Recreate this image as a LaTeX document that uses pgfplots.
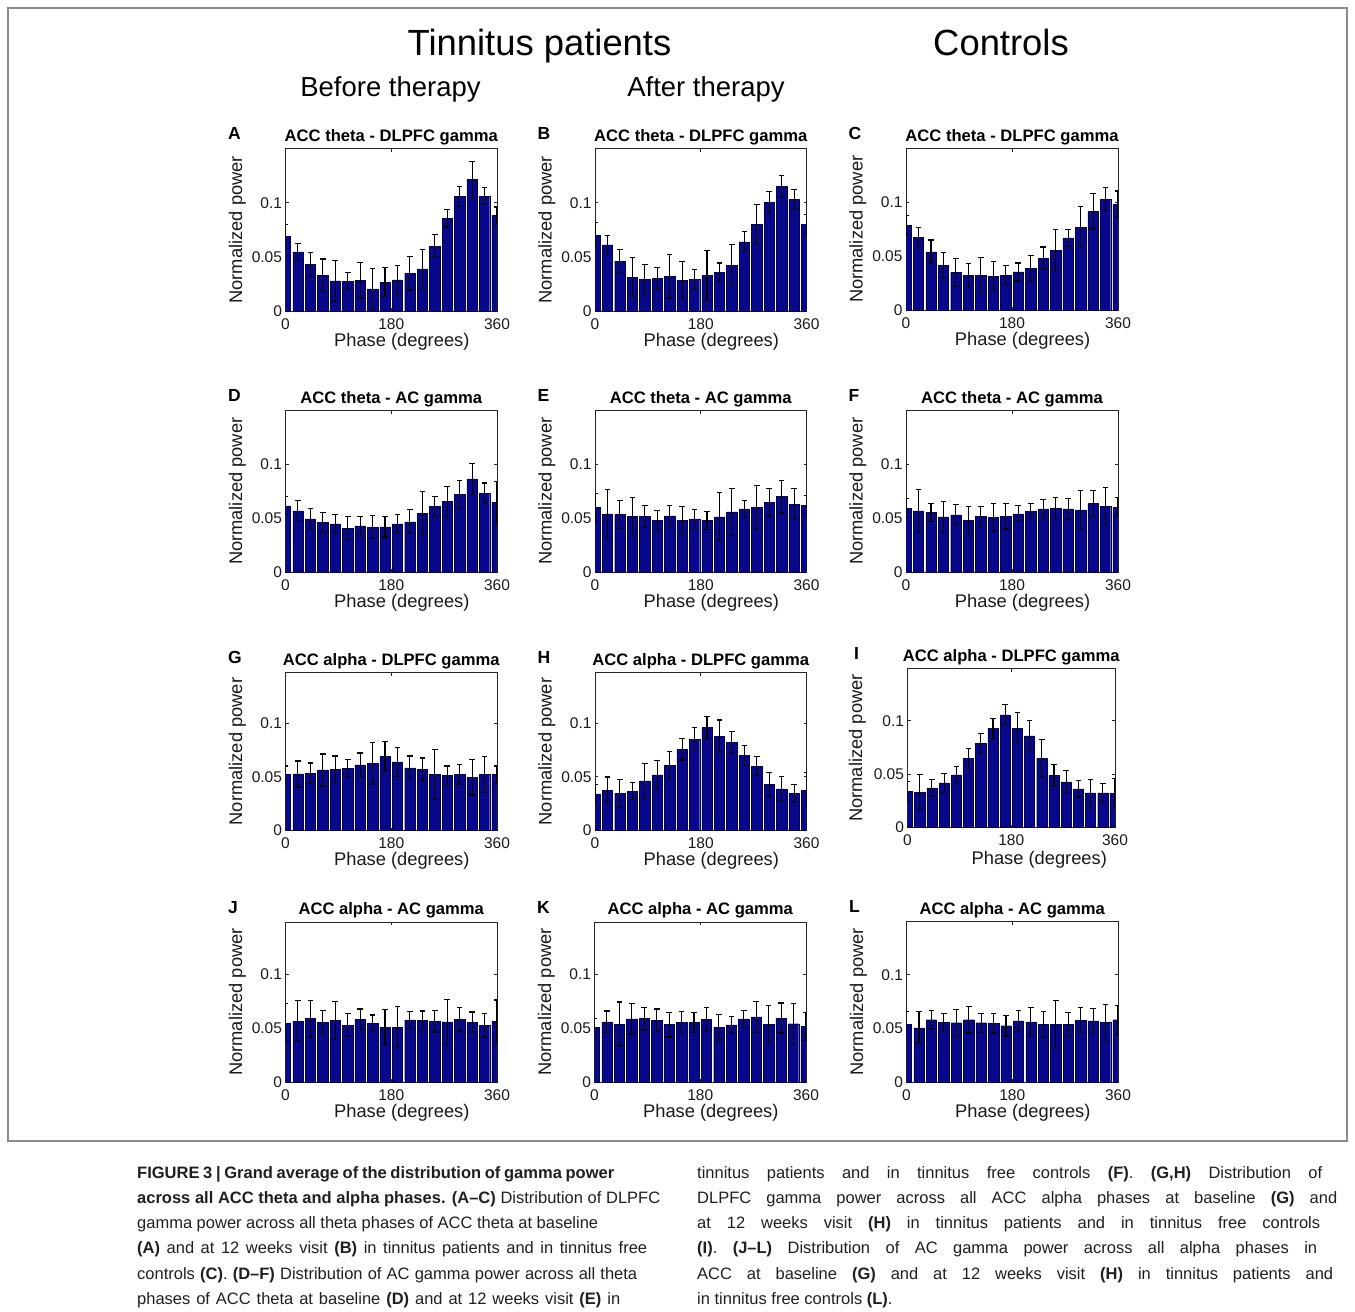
\documentclass[border=0pt]{standalone}
\usepackage{pgfplots}
\pgfplotsset{compat=1.18}
\usepackage{pgfplotstable}
\usepackage{fontspec}
\setmainfont{Liberation Sans}
\definecolor{barblue}{RGB}{8,8,140}

\pgfplotstableread{
x y e
0 0.0687 0.0109
21.176 0.0545 0.008
42.353 0.043 0.011
63.529 0.0328 0.0152
84.706 0.0279 0.0191
105.882 0.0276 0.0077
127.059 0.0285 0.0165
148.235 0.0204 0.0186
169.412 0.0266 0.0134
190.588 0.0288 0.0132
211.765 0.0347 0.0153
232.941 0.039 0.018
254.118 0.060 0.011
275.294 0.0855 0.008
296.471 0.1056 0.009
317.647 0.1214 0.0166
338.824 0.106 0.0076
360 0.088 0.008
}\tA
\pgfplotstableread{
x y e
0 0.070 0.012
21.176 0.061 0.009
42.353 0.046 0.011
63.529 0.031 0.018
84.706 0.029 0.014
105.882 0.030 0.010
127.059 0.032 0.020
148.235 0.0285 0.0175
169.412 0.0294 0.0093
190.588 0.033 0.023
211.765 0.0356 0.0087
232.941 0.0424 0.0192
254.118 0.0638 0.0092
275.294 0.080 0.018
296.471 0.100 0.010
317.647 0.1149 0.0101
338.824 0.1028 0.009
360 0.080 0.009
}\tB
\pgfplotstableread{
x y e
0 0.0786 0.0094
21.176 0.0675 0.0093
42.353 0.054 0.011
63.529 0.0418 0.0112
84.706 0.035 0.013
105.882 0.032 0.011
127.059 0.032 0.017
148.235 0.031 0.014
169.412 0.0325 0.0085
190.588 0.0353 0.0084
211.765 0.0387 0.0123
232.941 0.048 0.0105
254.118 0.0554 0.0196
275.294 0.0669 0.0081
296.471 0.077 0.019
317.647 0.0916 0.0164
338.824 0.1025 0.0111
360 0.098 0.0125
}\tC
\pgfplotstableread{
x y e
0 0.0614 0.0084
21.176 0.0568 0.0092
42.353 0.0494 0.0096
63.529 0.0463 0.0093
84.706 0.0448 0.0082
105.882 0.0407 0.0105
127.059 0.0429 0.0086
148.235 0.0417 0.0108
169.412 0.042 0.0095
190.588 0.0448 0.0082
211.765 0.0466 0.0111
232.941 0.0543 0.0207
254.118 0.0611 0.0093
275.294 0.0654 0.0142
296.471 0.0719 0.0131
317.647 0.0864 0.0142
338.824 0.0731 0.0096
360 0.0648 0.0192
}\tD
\pgfplotstableread{
x y e
0 0.0599 0.0129
21.176 0.054 0.0229
42.353 0.0534 0.0126
63.529 0.0519 0.0169
84.706 0.0515 0.0102
105.882 0.0478 0.0096
127.059 0.0522 0.0098
148.235 0.0478 0.013
169.412 0.0494 0.0086
190.588 0.0478 0.0081
211.765 0.0512 0.0223
232.941 0.0559 0.0216
254.118 0.0586 0.0078
275.294 0.0599 0.0201
296.471 0.0645 0.013
317.647 0.070 0.0152
338.824 0.063 0.0142
360 0.0617 0.0093
}\tE
\pgfplotstableread{
x y e
0 0.0593 0.0089
21.176 0.0568 0.0201
42.353 0.0552 0.0084
63.529 0.0512 0.0142
84.706 0.0531 0.0092
105.882 0.0478 0.0127
127.059 0.0515 0.009
148.235 0.0506 0.0133
169.412 0.0519 0.012
190.588 0.054 0.0074
211.765 0.0562 0.0077
232.941 0.0586 0.009
254.118 0.059 0.0101
275.294 0.0586 0.0096
296.471 0.0577 0.0179
317.647 0.0636 0.0123
338.824 0.0608 0.0179
360 0.0602 0.0089
}\tF
\pgfplotstableread{
x y e
0 0.0523 0.0077
21.176 0.0526 0.0121
42.353 0.0533 0.0095
63.529 0.0563 0.0149
84.706 0.057 0.0123
105.882 0.0576 0.0084
127.059 0.061 0.0111
148.235 0.0625 0.0192
169.412 0.069 0.0134
190.588 0.0638 0.0136
211.765 0.0582 0.0111
232.941 0.057 0.0105
254.118 0.0523 0.0232
275.294 0.0514 0.0086
296.471 0.0523 0.009
317.647 0.0495 0.0165
338.824 0.052 0.0167
360 0.052 0.008
}\tG
\pgfplotstableread{
x y e
0 0.034 0.009
21.176 0.0375 0.0123
42.353 0.0344 0.013
63.529 0.0365 0.0078
84.706 0.0461 0.0161
105.882 0.0517 0.0133
127.059 0.0604 0.013
148.235 0.0755 0.0099
169.412 0.0851 0.0109
190.588 0.096 0.0102
211.765 0.0879 0.0149
232.941 0.0817 0.0103
254.118 0.0697 0.0093
275.294 0.0598 0.0089
296.471 0.0427 0.0112
317.647 0.0387 0.0115
338.824 0.0344 0.008
360 0.0375 0.0161
}\tH
\pgfplotstableread{
x y e
0 0.0338 0.0092
21.176 0.033 0.0164
42.353 0.0372 0.0078
63.529 0.0419 0.0091
84.706 0.0494 0.0081
105.882 0.065 0.0094
127.059 0.0788 0.0096
148.235 0.0928 0.0092
169.412 0.1056 0.0094
190.588 0.093 0.0145
211.765 0.0859 0.0141
232.941 0.0647 0.0178
254.118 0.0488 0.0106
275.294 0.0428 0.0106
296.471 0.0363 0.0077
317.647 0.0325 0.0125
338.824 0.0325 0.0088
360 0.0322 0.0134
}\tI
\pgfplotstableread{
x y e
0 0.055 0.0183
21.176 0.0565 0.019
42.353 0.059 0.0171
63.529 0.0556 0.0112
84.706 0.0575 0.0177
105.882 0.0528 0.0106
127.059 0.0584 0.0096
148.235 0.0547 0.0077
169.412 0.0512 0.0165
190.588 0.0512 0.0193
211.765 0.0578 0.008
232.941 0.0571 0.009
254.118 0.0568 0.0102
275.294 0.0559 0.0208
296.471 0.0584 0.0109
317.647 0.0556 0.0096
338.824 0.0525 0.0109
360 0.0565 0.0199
}\tJ
\pgfplotstableread{
x y e
0 0.0512 0.0078
21.176 0.0559 0.0102
42.353 0.054 0.0205
63.529 0.0587 0.014
84.706 0.059 0.0106
105.882 0.0575 0.0105
127.059 0.0534 0.0115
148.235 0.0553 0.0102
169.412 0.0553 0.0096
190.588 0.0581 0.0112
211.765 0.0509 0.0118
232.941 0.0531 0.0078
254.118 0.0587 0.0078
275.294 0.0606 0.0142
296.471 0.0537 0.0177
317.647 0.0596 0.014
338.824 0.0543 0.019
360 0.0519 0.013
}\tK
\pgfplotstableread{
x y e
0 0.0537 0.0118
21.176 0.0506 0.0149
42.353 0.0581 0.0087
63.529 0.0559 0.0084
84.706 0.0553 0.0127
105.882 0.0581 0.0124
127.059 0.0553 0.0087
148.235 0.055 0.0093
169.412 0.0525 0.0096
190.588 0.0571 0.0097
211.765 0.0562 0.0131
232.941 0.0537 0.0124
254.118 0.0537 0.0224
275.294 0.0537 0.0115
296.471 0.0578 0.0115
317.647 0.0571 0.0118
338.824 0.0559 0.0168
360 0.0581 0.0133
}\tL

\newcommand\labfont{\fontsize{18.3}{20}\selectfont}
\pgfplotsset{
  panel/.style={
    scale only axis, anchor=north west,
    xmin=0, xmax=360, ymin=0, ymax=0.15,
    xtick={0,180,360}, xticklabels={0,180,360},
    ytick={0,0.05,0.1}, yticklabels={0,0.05,0.1},
    scaled y ticks=false, scaled x ticks=false,
    tick align=inside, tick pos=both, major tick length=3pt,
    axis line style={line width=0.8pt, black!85},
    every tick/.style={black!85, line width=0.6pt},
    tick label style={font=\fontsize{15.5}{17}\selectfont, text=black!90},
    xticklabel style={yshift=-4pt},
    /pgf/number format/assume math mode=true,
    xlabel={Phase (degrees)}, ylabel={Normalized power},
    title style={font=\bfseries\fontsize{16.6}{18}\selectfont, at={(0.5,1)}, anchor=base, yshift=1.5pt, text=black},
    every axis y label/.style={at={(axis description cs:-0.227,0.5)}, rotate=90, anchor=center, font=\labfont, text=black!90},
    every axis x label/.style={at={(axis description cs:0.55,-0.19)}, anchor=center, font=\labfont, text=black!90},
    clip=true,
  },
  bars/.style={
    ybar, bar width=17.6, fill=barblue, draw=barblue!50!black, line width=0.4pt,
    error bars/.cd, y dir=both, y explicit,
    error bar style={line width=1.1pt, black},
    error mark options={rotate=90, mark size=2.8pt, line width=1.1pt, black},
  },
}
\tikzset{letter/.style={anchor=base west, xshift=-57.5pt, yshift=9pt, inner sep=0pt, font=\bfseries\fontsize{17.5}{19}\selectfont}}
\newcommand\capline[4]{\node[anchor=base west, inner sep=0pt, font=\fontsize{16.5}{18}\selectfont, text=black!88] at (#1pt,-#2pt) {\makebox[#3pt][s]{#4}};}

\begin{document}
\begin{tikzpicture}
\path[use as bounding box] (0,0) rectangle (1355pt,-1312pt);
\draw[black!45, line width=1.2pt] (8pt,-8pt) rectangle (1347pt,-1141pt);

\node[anchor=base, inner sep=0pt, font=\fontsize{36.4}{40}\selectfont] at (539.5pt,-55pt) {Tinnitus patients};
\node[anchor=base, inner sep=0pt, font=\fontsize{36.4}{40}\selectfont] at (1001pt,-55pt) {Controls};
\node[anchor=base, inner sep=0pt, font=\fontsize{27.5}{30}\selectfont] at (390.5pt,-96pt) {Before therapy};
\node[anchor=base, inner sep=0pt, font=\fontsize{27.5}{30}\selectfont] at (706pt,-96pt) {After therapy};

% Row 1
\begin{axis}[panel, name=pA, at={(285.5pt,-148.5pt)}, width=211.5pt, height=162.5pt, title={ACC theta - DLPFC gamma}]
\addplot[bars] table[x=x, y=y, y error=e] {\tA};
\end{axis}
\node[letter] at (pA.north west) {A};
\begin{axis}[panel, name=pB, at={(595pt,-148.5pt)}, width=211.5pt, height=162.5pt, title={ACC theta - DLPFC gamma}]
\addplot[bars] table[x=x, y=y, y error=e] {\tB};
\end{axis}
\node[letter] at (pB.north west) {B};
\begin{axis}[panel, name=pC, at={(906pt,-148.5pt)}, width=212pt, height=161.5pt, title={ACC theta - DLPFC gamma}]
\addplot[bars] table[x=x, y=y, y error=e] {\tC};
\end{axis}
\node[letter] at (pC.north west) {C};

% Row 2
\begin{axis}[panel, name=pD, at={(285.5pt,-410.5pt)}, width=211.5pt, height=161.5pt, title={ACC theta - AC gamma}]
\addplot[bars] table[x=x, y=y, y error=e] {\tD};
\end{axis}
\node[letter] at (pD.north west) {D};
\begin{axis}[panel, name=pE, at={(595pt,-410.5pt)}, width=211.5pt, height=161.5pt, title={ACC theta - AC gamma}]
\addplot[bars] table[x=x, y=y, y error=e] {\tE};
\end{axis}
\node[letter] at (pE.north west) {E};
\begin{axis}[panel, name=pF, at={(906pt,-410.5pt)}, width=212pt, height=161.5pt, title={ACC theta - AC gamma}]
\addplot[bars] table[x=x, y=y, y error=e] {\tF};
\end{axis}
\node[letter] at (pF.north west) {F};

% Row 3
\begin{axis}[panel, name=pG, at={(285.5pt,-672.5pt)}, width=211.5pt, height=158pt, ymax=0.147, title={ACC alpha - DLPFC gamma}]
\addplot[bars] table[x=x, y=y, y error=e] {\tG};
\end{axis}
\node[letter] at (pG.north west) {G};
\begin{axis}[panel, name=pH, at={(595pt,-672.5pt)}, width=211.5pt, height=158pt, ymax=0.147, title={ACC alpha - DLPFC gamma}]
\addplot[bars] table[x=x, y=y, y error=e] {\tH};
\end{axis}
\node[letter] at (pH.north west) {H};
\begin{axis}[panel, name=pI, at={(907.5pt,-668.5pt)}, width=207.5pt, height=159pt, ymax=0.149, title={ACC alpha - DLPFC gamma},
  every axis x label/.style={at={(axis description cs:0.635,-0.2)}, anchor=center, font=\labfont, text=black!90},
  every axis y label/.style={at={(axis description cs:-0.241,0.5)}, rotate=90, anchor=center, font=\labfont, text=black!90}]
\addplot[bars] table[x=x, y=y, y error=e] {\tI};
\end{axis}
\node[letter, xshift=4pt] at (pI.north west) {I};

% Row 4
\begin{axis}[panel, name=pJ, at={(285.5pt,-922pt)}, width=211.5pt, height=160pt, ymax=0.149, title={ACC alpha - AC gamma}]
\addplot[bars] table[x=x, y=y, y error=e] {\tJ};
\end{axis}
\node[letter] at (pJ.north west) {J};
\begin{axis}[panel, name=pK, at={(594.5pt,-922pt)}, width=211.5pt, height=160pt, ymax=0.149, title={ACC alpha - AC gamma}]
\addplot[bars] table[x=x, y=y, y error=e] {\tK};
\end{axis}
\node[letter] at (pK.north west) {K};
\begin{axis}[panel, name=pL, at={(906.5pt,-921.5pt)}, width=211.5pt, height=160.5pt, ymax=0.1497, title={ACC alpha - AC gamma}]
\addplot[bars] table[x=x, y=y, y error=e] {\tL};
\end{axis}
\node[letter] at (pL.north west) {L};

% Caption
\capline{137}{1178}{477}{\textbf{FIGURE 3 | Grand average of the distribution of gamma power}}
\capline{137}{1203.3}{523}{\textbf{across all ACC theta and alpha phases. (A–C)} Distribution of DLPFC}
\capline{137}{1228.6}{461}{gamma power across all theta phases of ACC theta at baseline}
\capline{137}{1253.9}{510}{\textbf{(A)} and at 12 weeks visit \textbf{(B)} in tinnitus patients and in tinnitus free}
\capline{137}{1279.2}{500}{controls \textbf{(C)}. \textbf{(D–F)} Distribution of AC gamma power across all theta}
\capline{137}{1304.5}{483}{phases of ACC theta at baseline \textbf{(D)} and at 12 weeks visit \textbf{(E)} in}
\capline{697}{1178}{625}{tinnitus patients and in tinnitus free controls \textbf{(F)}. \textbf{(G,H)} Distribution of}
\capline{697}{1203.3}{640}{DLPFC gamma power across all ACC alpha phases at baseline \textbf{(G)} and}
\capline{697}{1228.6}{623}{at 12 weeks visit \textbf{(H)} in tinnitus patients and in tinnitus free controls}
\capline{697}{1253.9}{620}{\textbf{(I)}. \textbf{(J–L)} Distribution of AC gamma power across all alpha phases in}
\capline{697}{1279.2}{636}{ACC at baseline \textbf{(G)} and at 12 weeks visit \textbf{(H)} in tinnitus patients and}
\node[anchor=base west, inner sep=0pt, font=\fontsize{16.5}{18}\selectfont, text=black!88] at (697pt,-1304.5pt) {in tinnitus free controls \textbf{(L)}.};
\end{tikzpicture}
\end{document}
